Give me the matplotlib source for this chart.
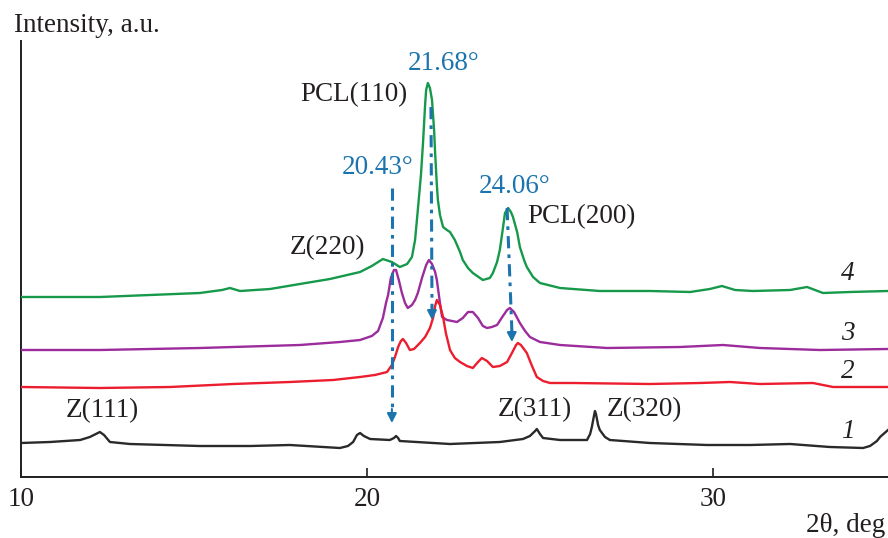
import matplotlib
matplotlib.use("Agg")
import matplotlib.pyplot as plt

# curve 4 (green)
tt4 = [10.00, 12.28, 15.17, 15.81, 16.04, 16.33, 17.20, 18.06, 18.93, 19.80, 20.14, 20.46, 20.72, 20.95,
       21.16, 21.30, 21.39, 21.47, 21.56, 21.62, 21.68, 21.71, 21.76, 21.82, 21.88, 21.94, 21.97, 22.02,
       22.05, 22.11, 22.20, 22.31, 22.40, 22.54, 22.69, 22.77, 22.92, 23.06, 23.35, 23.55, 23.64, 23.76,
       23.84, 23.93, 23.99, 24.08, 24.16, 24.22, 24.34, 24.42, 24.54, 24.62, 24.80, 25.00, 25.58, 26.73,
       28.18, 29.34, 29.91, 30.26, 30.64, 31.16, 32.23, 32.72, 33.18, 33.96, 35.06]
int4 = [180, 180, 184, 187, 189, 186, 188, 193, 198, 205, 211, 218, 215, 210,
        213, 220, 237, 267, 302, 334, 372, 387, 394, 389, 377, 347, 324, 292,
        277, 262, 250, 247, 245, 237, 225, 217, 209, 204, 197, 199, 204, 215,
        227, 249, 264, 269, 265, 260, 245, 230, 217, 210, 200, 194, 189, 186,
        186, 185, 188, 191, 187, 186, 187, 190, 184, 185, 186]

# curve 3 (purple)
tt3 = [10.00, 12.28, 15.17, 18.06, 19.22, 19.80, 20.14, 20.32, 20.46, 20.55, 20.61, 20.69, 20.78, 20.84,
       20.92, 21.01, 21.10, 21.18, 21.30, 21.39, 21.47, 21.59, 21.71, 21.79, 21.88, 21.97, 22.02, 22.11,
       22.17, 22.31, 22.46, 22.60, 22.77, 22.92, 23.06, 23.21, 23.35, 23.47, 23.61, 23.76, 23.93, 24.05,
       24.13, 24.25, 24.42, 24.57, 24.71, 25.00, 25.20, 25.58, 26.94, 29.05, 30.29, 31.36, 33.09, 35.06]
int3 = [127, 127, 129, 132, 135, 137, 141, 146, 159, 174, 182, 199, 207, 207,
        197, 184, 174, 169, 172, 177, 184, 199, 212, 217, 213, 205, 197, 174,
        160, 157, 156, 155, 159, 165, 165, 159, 151, 149, 150, 152, 161, 167,
        169, 165, 154, 146, 140, 135, 134, 132, 129, 130, 132, 129, 127, 128]

# curve 2 (red)
tt2 = [10.00, 12.28, 14.31, 16.13, 17.77, 19.02, 19.80, 20.23, 20.58, 20.72, 20.81, 20.90, 20.98, 21.04,
       21.13, 21.24, 21.36, 21.53, 21.68, 21.82, 21.91, 21.97, 22.02, 22.11, 22.20, 22.28, 22.40, 22.54,
       22.69, 22.89, 23.06, 23.21, 23.32, 23.47, 23.64, 23.84, 24.05, 24.19, 24.31, 24.36, 24.45, 24.62,
       24.77, 24.91, 25.09, 25.29, 25.95, 28.18, 29.62, 30.49, 31.36, 32.89, 33.47, 35.06]
int2 = [90, 89, 90, 93, 95, 97, 100, 102, 105, 112, 120, 130, 136, 138,
        134, 127, 128, 134, 140, 149, 159, 171, 177, 172, 160, 144, 127, 119,
        115, 111, 109, 115, 119, 116, 110, 111, 115, 124, 132, 134, 132, 124,
        111, 100, 96, 94, 94, 93, 94, 95, 93, 94, 90, 90]

# curve 1 (black)
tt1 = [10.00, 10.84, 11.71, 11.99, 12.28, 12.40, 12.57, 13.15, 15.17, 16.62, 17.77, 19.22, 19.45, 19.60,
       19.71, 19.80, 19.91, 20.09, 20.66, 20.78, 20.84, 20.90, 20.95, 22.40, 23.84, 24.51, 24.71, 24.86,
       24.91, 25.00, 25.09, 25.58, 26.36, 26.45, 26.50, 26.56, 26.59, 26.62, 26.68, 26.73, 26.88, 27.02,
       28.18, 29.83, 31.07, 32.23, 33.38, 34.34, 34.54, 34.74, 34.83, 35.06]
int1 = [34, 35, 37, 40, 45, 42, 35, 33, 31, 31, 32, 29, 31, 35,
        42, 44, 41, 38, 37, 39, 41, 39, 36, 33, 35, 38, 41, 46,
        48, 43, 39, 37, 37, 43, 50, 61, 66, 63, 52, 47, 40, 37,
        34, 32, 32, 33, 30, 29, 31, 36, 40, 47]

# dash-dot guide arrows (top -> tip)
arrow_x_top = [20.72, 21.85, 24.05]
arrow_x_tip = [20.72, 21.88, 24.19]
arrow_top = [289, 370, 269]
arrow_tip = [54, 157, 135]
peak_labels = ["20.43°", "21.68°", "24.06°"]

SERIF = "Liberation Serif"
FS = 19.5
BLUE = "#1b74ad"
INK = "#231f20"

plt.rcParams["font.family"] = [SERIF, "DejaVu Serif"]

fig = plt.figure(figsize=(8.88, 5.38), dpi=100)
ax = fig.add_axes([21 / 888, 61 / 538, 867 / 888, 436 / 538])

ax.plot(tt4, int4, color="#16994a", lw=1.7, zorder=3)
ax.plot(tt3, int3, color="#9c2c9c", lw=1.7, zorder=3)
ax.plot(tt2, int2, color="#ec1d2e", lw=1.7, zorder=3)
ax.plot(tt1, int1, color="#2a2a2a", lw=1.7, zorder=3)

for xa, xb, ya, yb in zip(arrow_x_top, arrow_x_tip, arrow_top, arrow_tip):
    ax.plot([xa, xb], [ya, yb + 10], color=BLUE, lw=2.2,
            linestyle=(0, (4, 2, 1.2, 2)), zorder=4)
    ax.annotate("", xy=(xb, yb), xytext=(xb - (xb - xa) * 0.05, yb + 14),
                arrowprops=dict(arrowstyle="-|>,head_length=0.55,head_width=0.28",
                                color=BLUE, lw=1.5, shrinkA=0, shrinkB=0), zorder=4)

ax.text(20.32, 310, peak_labels[0], color=BLUE, fontsize=FS, ha="center", va="center")
ax.text(22.23, 414, peak_labels[1], color=BLUE, fontsize=FS, ha="center", va="center")
ax.text(24.28, 291, peak_labels[2], color=BLUE, fontsize=FS, ha="center", va="center")

ax.text(12.34, 66, "Z(111)", color=INK, fontsize=FS, ha="center", va="center")
ax.text(18.87, 229, "Z(220)", color=INK, fontsize=FS, ha="center", va="center")
ax.text(21.18, 382, "PCL(110)", color=INK, fontsize=FS, ha="right", va="center")
ax.text(24.62, 260, "PCL(200)", color=INK, fontsize=FS, ha="left", va="center")
ax.text(24.86, 67, "Z(311)", color=INK, fontsize=FS, ha="center", va="center")
ax.text(28.03, 67, "Z(320)", color=INK, fontsize=FS, ha="center", va="center")

for lab, yy in zip(["4", "3", "2", "1"], [204, 144, 106, 45]):
    ax.text(33.90, yy, lab, color=INK, fontsize=FS, style="italic", ha="center", va="center")

ax.set_xlim(10, 35.06)
ax.set_ylim(0, 436)
ax.set_xticks([10, 20, 30])
ax.set_yticks([])
ax.tick_params(axis="x", direction="in", length=6.5, width=1.2, pad=7,
               labelsize=FS, colors=INK)
for side in ["top", "right"]:
    ax.spines[side].set_visible(False)
for side in ["left", "bottom"]:
    ax.spines[side].set_linewidth(1.4)
    ax.spines[side].set_color(INK)

fig.text(14 / 888, 1 - 26 / 538, "Intensity, a.u.", fontsize=FS, color=INK,
         ha="left", va="center")
fig.text(885 / 888, 1 - 525 / 538, "2θ, deg", fontsize=FS, color=INK,
         ha="right", va="center")

fig.savefig("out.png", dpi=100)
